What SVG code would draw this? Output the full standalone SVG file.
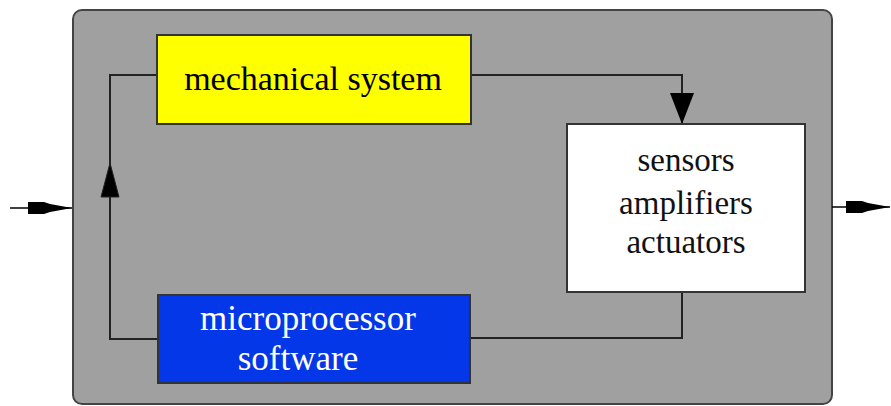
<svg xmlns="http://www.w3.org/2000/svg" width="891" height="406" viewBox="0 0 891 406">
<style>
.box{stroke:#333;stroke-width:2}
.t{font-family:"Liberation Serif","Times New Roman",serif;font-size:34px;text-anchor:middle}
.ln{fill:none;stroke:#222;stroke-width:2}
</style>
<defs>
<marker id="ahl" markerWidth="44" markerHeight="16" refX="44" refY="8" orient="auto" markerUnits="userSpaceOnUse" viewBox="0 0 44 16">
<path d="M0,2 L16,2 L22,4 L44,8 L22,12 L16,14 L0,14 Z" fill="#000"/>
</marker>
</defs>
<g id="frame">
<rect x="73" y="10" width="759" height="394" rx="9" fill="#a0a0a0" stroke="#444" stroke-width="2"/>
</g>
<g id="connectors">
<path class="ln" d="M157,75 H110 V339 H158"/>
<path d="M110,163 L101,197 L119,197 Z" fill="#000" stroke="#222" stroke-width="1"/>
<path class="ln" d="M471,75 H682 V124"/>
<path d="M682,124 L670,93 L694,93 Z" fill="#000"/>
<path class="ln" d="M470,338 H682 V292"/>
<line x1="10" y1="208" x2="72" y2="208" stroke="#000" stroke-width="1.5" marker-end="url(#ahl)"/>
<line x1="832" y1="207" x2="890" y2="207" stroke="#000" stroke-width="1.5" marker-end="url(#ahl)"/>
</g>
<g id="mechanical">
<rect class="box" x="157" y="35" width="314" height="89" fill="#ffff00"/>
<text class="t" x="313" y="90" fill="#000">mechanical system</text>
</g>
<g id="sensors">
<rect class="box" x="567" y="124" width="238" height="168" fill="#ffffff"/>
<text class="t" x="686" y="171" fill="#111" style="font-size:33px">sensors</text>
<text class="t" x="686" y="214" fill="#111" style="font-size:33px">amplifiers</text>
<text class="t" x="686" y="253" fill="#111" style="font-size:33px">actuators</text>
</g>
<g id="microprocessor">
<rect class="box" x="158" y="295" width="312" height="88" fill="#0437e8"/>
<text class="t" x="308" y="330" fill="#ffffff" style="font-size:35px">microprocessor</text>
<text class="t" x="298" y="370" fill="#ffffff" style="font-size:35px">software</text>
</g>
</svg>
